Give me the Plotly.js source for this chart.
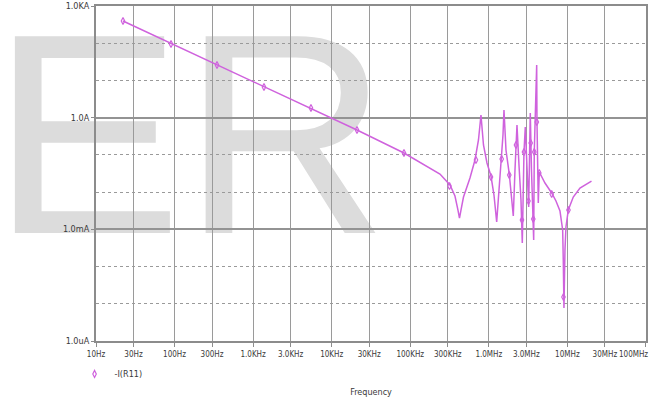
<!DOCTYPE html>
<html>
<head>
<meta charset="utf-8">
<script src="https://cdn.plot.ly/plotly-3.0.1.min.js"></script>
<style>
  html, body { margin: 0; padding: 0; background: #ffffff; }
  #wrap { position: relative; width: 652px; height: 400px; overflow: hidden; }
  #wm { position: absolute; left: 0; top: 0; z-index: 0; }
  #chart { position: absolute; left: 0; top: 0; width: 652px; height: 400px; z-index: 1; }
</style>
</head>
<body>
<div id="wrap">
  <svg id="wm" width="652" height="400">
    <text x="-8.6" y="233" font-family="Liberation Sans, Arial, sans-serif" font-size="286" fill="#dcdcdc">ER</text>
  </svg>
  <div id="chart"></div>
</div>
<script>
// Trace -I(R11): frequency (Hz) and current (A)
const freqHz = [
  22.06, 90.1, 346.7, 1374, 5445, 20990, 83180, 163300, 238800, 320300,
  370700, 404800, 423100, 442100, 475800, 575400, 666400, 738200, 794300, 855000,
  947300, 1.065e6, 1.163e6, 1.259e6, 1.346e6, 1.457e6, 1.514e6, 1.559e6, 1.653e6, 1.821e6,
  1.943e6, 2.048e6, 2.153e6, 2.197e6, 2.282e6, 2.420e6, 2.566e6, 2.666e6, 2.745e6, 2.802e6,
  2.911e6, 3.059e6, 3.178e6, 3.216e6, 3.292e6, 3.370e6, 3.491e6, 3.648e6, 3.724e6, 3.789e6,
  3.925e6, 4.066e6, 4.101e6, 4.174e6, 4.260e6, 4.387e6, 5.185e6, 6.308e6, 7.156e6, 8.046e6,
  8.707e6, 8.862e6, 9.046e6, 9.315e6, 9.592e6, 1.026e7, 1.188e7, 1.446e7, 2.026e7
];
const currentA = [
  395.3, 98.3, 26.0, 6.67, 1.76, 0.466, 0.1125, 0.0502, 0.0306, 0.01552,
  0.00785, 0.00330, 0.00201, 0.00330, 0.00738, 0.02393, 0.0729, 0.2512, 1.179, 0.1843,
  0.0605, 0.02708, 0.00836, 0.001574, 0.01139, 0.0729, 0.342, 1.607, 0.1352, 0.0306,
  0.00836, 0.00228, 0.03926, 0.1843, 0.6353, 0.0535, 0.00614, 0.000429, 0.01139, 0.1195,
  0.561, 0.0288, 0.00614, 0.00398, 0.0729, 1.334, 0.03926, 0.002427, 0.000516, 0.1195,
  1.607, 26.0, 0.8133, 0.03467, 0.005093, 0.03467, 0.01756, 0.00946, 0.005768, 0.003105,
  0.000959, 0.00015, 7.69e-6, 0.000278, 0.001154, 0.0033, 0.00738, 0.01288, 0.01986
];
// Symbol markers placed along the trace (as PSpice draws them)
const markerHz = [
  22.06, 90.1, 346.7, 1374, 5445, 20990, 83180, 315700, 686100, 1.065e6,
  1.457e6, 1.821e6, 2.216e6, 2.642e6, 2.802e6, 3.197e6, 3.410e6, 3.680e6, 3.789e6, 4.08e6,
  4.387e6, 6.308e6, 8.913e6, 1.032e7
];
const markerA = [
  395.3, 95.3, 26.0, 6.67, 1.818, 0.466, 0.1125, 0.01459, 0.0729, 0.02547,
  0.0775, 0.0288, 0.1843, 0.001778, 0.1195, 0.005768, 0.2084, 0.001894, 0.1195, 0.7646,
  0.0326, 0.00889, 1.52e-5, 0.0033
];
const seriesName = "-I(R11)";
const xTickVals = [10, 30, 100, 300, 1e3, 3e3, 1e4, 3e4, 1e5, 3e5, 1e6, 3e6, 1e7, 3e7, 1e8];
const xTickText = ["10Hz", "30Hz", "100Hz", "300Hz", "1.0KHz", "3.0KHz", "10KHz", "30KHz",
                   "100KHz", "300KHz", "1.0MHz", "3.0MHz", "10MHz", "30MHz", "100MHz"];
const yTickVals = [1e-6, 1e-3, 1, 1e3];
const yTickText = ["1.0uA", "1.0mA", "1.0A", "1.0KA"];
const yMinorVals = [1e-5, 1e-4, 1e-2, 1e-1, 10, 100];
const xTitle = "Frequency";

const FONT = "Liberation Sans Narrow, DejaVu Sans Condensed, Liberation Sans, sans-serif";
const traceColor = "#cf62dd";
const textColor = "#3a3a3a";

// The last tick label sits at the right edge; it is drawn right-aligned so it stays inside the page.
const lastIdx = xTickVals.length - 1;
const axisTickText = xTickText.map((t, i) => (i === lastIdx ? "" : t));

const data = [
  {
    x: freqHz, y: currentA, type: "scatter", mode: "lines",
    line: { color: traceColor, width: 1.5 },
    showlegend: false, hoverinfo: "skip"
  },
  {
    x: markerHz, y: markerA, type: "scatter", mode: "markers", name: seriesName,
    marker: { symbol: "diamond-tall-open", size: 5, color: traceColor, line: { width: 1.2, color: traceColor } },
    showlegend: true
  }
];

const layout = {
  width: 652, height: 400,
  margin: { l: 96, r: 6, t: 6, b: 59 },
  paper_bgcolor: "rgba(0,0,0,0)",
  plot_bgcolor: "rgba(0,0,0,0)",
  font: { family: FONT, size: 9, color: textColor },
  xaxis: {
    type: "log", range: [1, 8.0005],
    tickmode: "array", tickvals: xTickVals, ticktext: axisTickText,
    showgrid: true, gridcolor: "#9a9a9a", gridwidth: 1,
    showline: true, linecolor: "#8c8c8c", linewidth: 2, mirror: true,
    ticks: "outside", ticklen: 4, tickcolor: "#8c8c8c", tickwidth: 1,
    tickfont: { family: FONT, size: 8, color: textColor },
    zeroline: false, automargin: false,
    title: { text: xTitle, font: { family: FONT, size: 9, color: textColor }, standoff: 31 }
  },
  yaxis: {
    type: "log", range: [-6, 3],
    tickmode: "array", tickvals: yTickVals, ticktext: yTickText,
    showgrid: true, gridcolor: "#939393", gridwidth: 2,
    showline: true, linecolor: "#8c8c8c", linewidth: 2, mirror: true,
    ticks: "outside", ticklen: 3, tickcolor: "#8c8c8c", tickwidth: 1,
    tickfont: { family: FONT, size: 9, color: textColor },
    minor: { tickmode: "array", tickvals: yMinorVals, showgrid: true, griddash: "dot", gridcolor: "#9a9a9a", gridwidth: 1, ticks: "" },
    zeroline: false, automargin: false
  },
  annotations: [
    {
      x: Math.log10(xTickVals[lastIdx]), xref: "x", y: 0, yref: "paper",
      text: xTickText[lastIdx], showarrow: false,
      xanchor: "right", yanchor: "top", xshift: 4, yshift: -7,
      font: { family: FONT, size: 8, color: textColor }
    }
  ],
  legend: {
    x: -0.039, xanchor: "left", y: -0.055, yanchor: "top",
    bgcolor: "rgba(0,0,0,0)", borderwidth: 0,
    font: { family: FONT, size: 9, color: textColor }
  }
};

Plotly.newPlot("chart", data, layout, { displayModeBar: false, staticPlot: true });
</script>
</body>
</html>
